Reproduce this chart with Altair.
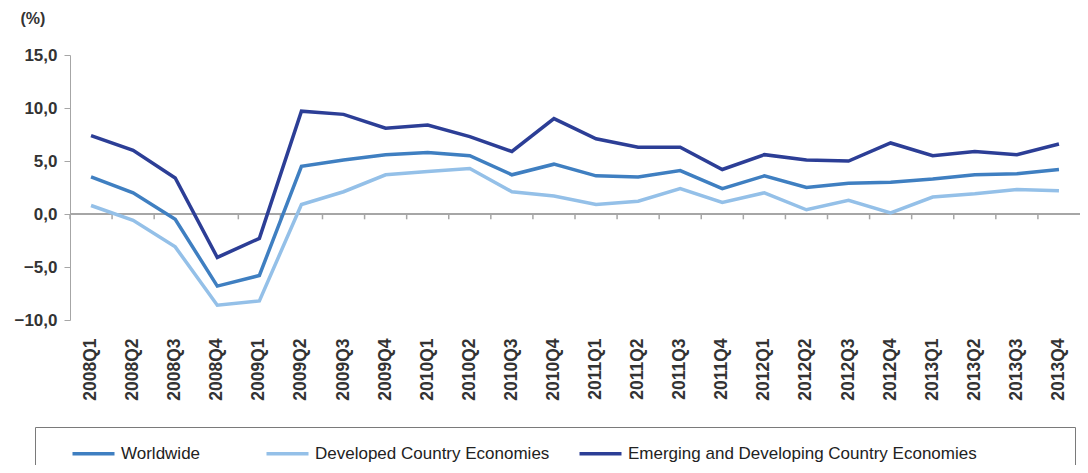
import altair as alt
import pandas as pd

quarters = ["2008Q1", "2008Q2", "2008Q3", "2008Q4",
            "2009Q1", "2009Q2", "2009Q3", "2009Q4",
            "2010Q1", "2010Q2", "2010Q3", "2010Q4",
            "2011Q1", "2011Q2", "2011Q3", "2011Q4",
            "2012Q1", "2012Q2", "2012Q3", "2012Q4",
            "2013Q1", "2013Q2", "2013Q3", "2013Q4"]

worldwide = [3.5, 2.0, -0.5, -6.8, -5.8, 4.5, 5.1, 5.6, 5.8, 5.5, 3.7, 4.7,
             3.6, 3.5, 4.1, 2.4, 3.6, 2.5, 2.9, 3.0, 3.3, 3.7, 3.8, 4.2]
developed = [0.8, -0.6, -3.1, -8.6, -8.2, 0.9, 2.1, 3.7, 4.0, 4.3, 2.1, 1.7,
             0.9, 1.2, 2.4, 1.1, 2.0, 0.4, 1.3, 0.1, 1.6, 1.9, 2.3, 2.2]
emerging = [7.4, 6.0, 3.4, -4.1, -2.3, 9.7, 9.4, 8.1, 8.4, 7.3, 5.9, 9.0,
            7.1, 6.3, 6.3, 4.2, 5.6, 5.1, 5.0, 6.7, 5.5, 5.9, 5.6, 6.6]

series_names = ["Worldwide", "Developed Country Economies",
                "Emerging and Developing Country Economies"]
series_colors = ["#3f7fc1", "#94c0e8", "#2c3e96"]
y_ticks = [-10, -5, 0, 5, 10, 15]

rows = []
for name, vals in zip(series_names, [worldwide, developed, emerging]):
    for q, v in zip(quarters, vals):
        rows.append({"quarter": q, "value": v, "series": name})
df = pd.DataFrame(rows)

FONT = "Liberation Sans"
GREY = "#a6a6a6"
BLANK = "\u2800"

xscale = alt.Scale(type="band", paddingInner=0, paddingOuter=0)

label_expr = (
    "datum.label == 'Worldwide' ? datum.label + '" + BLANK * 3 + "' : "
    "datum.label == 'Emerging and Developing Country Economies' ? "
    "datum.label + '" + BLANK * 7 + "' : datum.label"
)

lines = alt.Chart(df).mark_line(strokeWidth=3.5).encode(
    x=alt.X("quarter:N", sort=quarters, scale=xscale,
            axis=alt.Axis(title=None, labelAngle=-90, domain=False, ticks=False,
                          labelFontSize=17.5, labelFont=FONT, labelFontWeight="bold",
                          labelColor="#333", labelPadding=18)),
    y=alt.Y("value:Q", scale=alt.Scale(domain=[-10, 15], nice=False, zero=False),
            axis=alt.Axis(values=y_ticks, grid=False,
                          labelExpr="replace(format(datum.value, '.1f'), '.', ',')",
                          domainColor=GREY, tickColor=GREY, tickSize=6,
                          labelFontSize=17, labelFont=FONT, labelFontWeight="bold",
                          labelColor="#333", labelPadding=7,
                          title="(%)", titleAngle=0, titleX=-50, titleY=-37,
                          titleAlign="left", titleBaseline="middle",
                          titleFontSize=16, titleFont=FONT, titleFontWeight="bold",
                          titleColor="#333")),
    color=alt.Color("series:N",
                    scale=alt.Scale(domain=series_names, range=series_colors),
                    legend=alt.Legend(orient="none", legendX=-35, legendY=372,
                                      direction="horizontal", title=None,
                                      symbolType="M-2,0L2,0", symbolStrokeWidth=3.5,
                                      symbolSize=441, symbolOffset=32,
                                      labelFontSize=17,
                                      labelFont=FONT, labelColor="#222",
                                      labelOffset=15, columnPadding=6,
                                      padding=14, labelLimit=1000,
                                      strokeColor="#7a7a7a", fillColor="white",
                                      labelExpr=label_expr)),
    order=alt.Order("series:N"),
)

zero_line = alt.Chart(pd.DataFrame({"v": [0]})).mark_rule(
    color=GREY, strokeWidth=2).encode(y=alt.Y("v:Q"))

ticks = alt.Chart(pd.DataFrame({"quarter": quarters})).mark_rule(
    color=GREY, strokeWidth=1.5).encode(
    x=alt.X("quarter:N", sort=quarters, bandPosition=0),
    y=alt.datum(0),
    y2=alt.datum(-0.5),
)

chart = alt.layer(zero_line, ticks, lines).properties(
    width=1010, height=265,
    autosize=alt.AutoSizeParams(type="none"),
    padding={"left": 62, "top": 47, "right": 0, "bottom": 145},
).configure_view(stroke=None)

chart.save("out.html", embed_options={"renderer": "svg", "actions": False})
